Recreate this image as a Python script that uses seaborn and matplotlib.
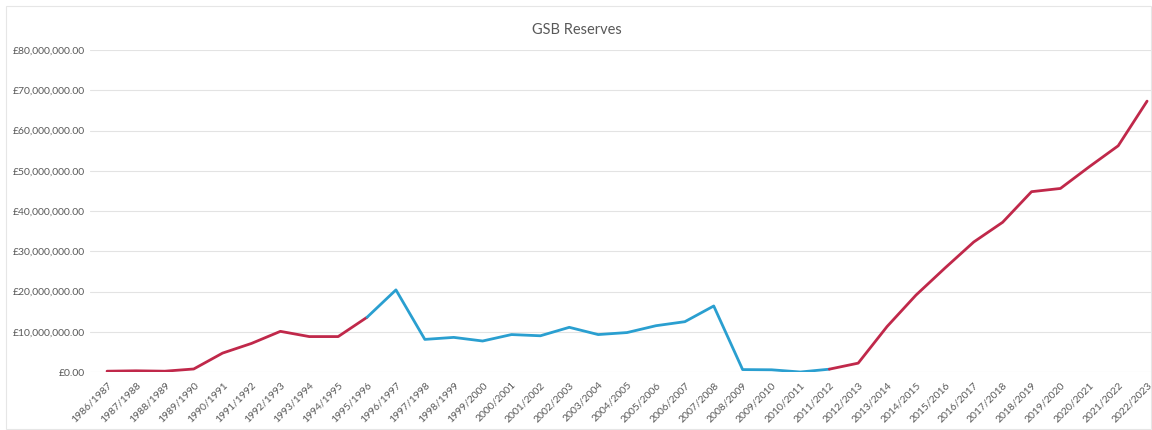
import matplotlib
matplotlib.use("Agg")
import matplotlib.pyplot as plt
import matplotlib.patches as mpatches
from matplotlib.ticker import FuncFormatter, MultipleLocator
import pandas as pd
import seaborn as sns

# Financial years
periods = [
    "1986/1987", "1987/1988", "1988/1989", "1989/1990", "1990/1991", "1991/1992",
    "1992/1993", "1993/1994", "1994/1995", "1995/1996", "1996/1997", "1997/1998",
    "1998/1999", "1999/2000", "2000/2001", "2001/2002", "2002/2003", "2003/2004",
    "2004/2005", "2005/2006", "2006/2007", "2007/2008", "2008/2009", "2009/2010",
    "2010/2011", "2011/2012", "2012/2013", "2013/2014", "2014/2015", "2015/2016",
    "2016/2017", "2017/2018", "2018/2019", "2019/2020", "2020/2021", "2021/2022",
    "2022/2023",
]

# Reserves in pounds
reserves = [
    0.2e6, 0.3e6, 0.2e6, 0.75e6, 4.7e6, 7.1e6,
    10.1e6, 8.8e6, 8.8e6, 13.6e6, 20.4e6, 8.1e6,
    8.6e6, 7.7e6, 9.3e6, 9.0e6, 11.1e6, 9.3e6,
    9.8e6, 11.5e6, 12.5e6, 16.4e6, 0.6e6, 0.55e6,
    0.0e6, 0.7e6, 2.2e6, 11.3e6, 19.1e6, 25.8e6,
    32.3e6, 37.2e6, 44.8e6, 45.6e6, 51.0e6, 56.2e6,
    67.3e6,
]

# Periods where the line changes colour (segment start/end indices)
segment_bounds = [0, 9, 25, 36]
segment_colors = ["#C0284A", "#2A9FD0", "#C0284A"]

df = pd.DataFrame({"idx": range(len(periods)), "period": periods, "reserves": reserves})

sns.set_theme(style="white")
plt.rcParams["font.family"] = ["Lato", "DejaVu Sans"]

fig = plt.figure(figsize=(11.52, 4.30), dpi=100)
ax = fig.add_axes([90 / 1152, 1 - 372 / 430, (1152 - 90) / 1152, (372 - 50) / 430])

for (start, end), color in zip(zip(segment_bounds[:-1], segment_bounds[1:]), segment_colors):
    part = df.iloc[start:end + 1]
    sns.lineplot(data=part, x="idx", y="reserves", color=color, linewidth=2.0,
                 ax=ax, solid_capstyle="round", solid_joinstyle="round")

ax.set_xlim(-0.59, len(periods) - 1 + 0.17)
ax.set_ylim(0, 80e6)
ax.yaxis.set_major_locator(MultipleLocator(10e6))
ax.yaxis.set_major_formatter(FuncFormatter(lambda v, _: f"£{v:,.2f}"))
ax.set_xticks(range(len(periods)))
ax.set_xticklabels(periods, rotation=45, ha="right", rotation_mode="anchor")
ax.tick_params(axis="both", labelsize=7.5, labelcolor="#595959", length=0, pad=4)
ax.tick_params(axis="x", pad=6)
ax.grid(axis="y", color="#E3E3E3", linewidth=0.8)
ax.grid(axis="x", visible=False)
for s in ax.spines.values():
    s.set_visible(False)
ax.set_xlabel("")
ax.set_ylabel("")

fig.text(577 / 1152, 1 - 30 / 430, "GSB Reserves", ha="center", va="center",
         fontsize=10.5, color="#595959")

# Chart area frame
fig.patches.append(mpatches.Rectangle((6 / 1152, 1 / 430), 1 - 7 / 1152, 1 - 7 / 430,
                                      transform=fig.transFigure, fill=False,
                                      edgecolor="#E6E6E6", linewidth=0.8))

fig.savefig("out.png", dpi=100, facecolor="white")
